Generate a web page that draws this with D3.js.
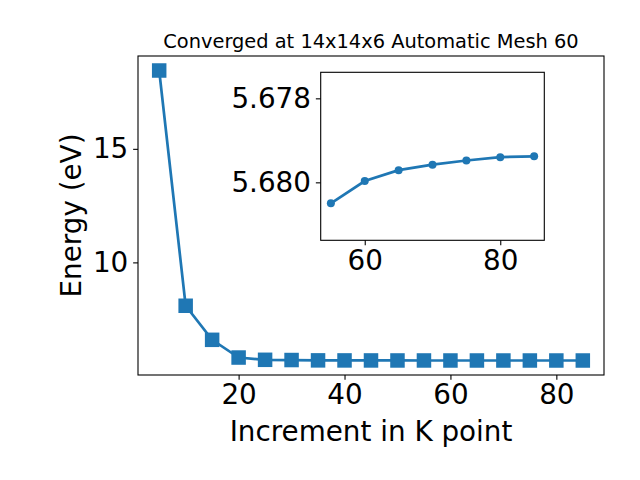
<!DOCTYPE html>
<html>
<head>
<meta charset="utf-8">
<script src="https://cdn.jsdelivr.net/npm/d3@7"></script>
<style>
  body { margin: 0; background: #fff; }
  text { font-family: "DejaVu Sans", sans-serif; fill: #000; }
</style>
</head>
<body>
<svg id="chart" width="640" height="480"></svg>
<script>
// k-point increments and total energies
var kpts = [5, 10, 15, 20, 25, 30, 35, 40, 45, 50, 55, 60, 65, 70, 75, 80, 85]
var energy = [18.45, 8.09, 6.59, 5.81, 5.71, 5.70, 5.685, 5.683, 5.682, 5.681,
              5.6805, 5.67997, 5.67971, 5.67958, 5.67948, 5.6794, 5.67938]

// zoomed-in tail shown in the inset
var insetK = [55, 60, 65, 70, 75, 80, 85]
var insetE = [5.6805, 5.67997, 5.67971, 5.67958, 5.67948, 5.6794, 5.67938]

var xTicks = [20, 40, 60, 80]
var yTicks = [10, 15]
var insetXTicks = [60, 80]
var insetYTicks = [5.678, 5.680]

var blue = "#1f77b4"
var tick = 4.86
var lw = 2.7
var svg = d3.select("#chart")

svg.append("rect").attr("width", 640).attr("height", 480).attr("fill", "#fff")

// main axes box
var L = 138, R = 604, T = 56, B = 375

function padded(ext, f) {
    var d = (ext[1] - ext[0]) * f
    return [ext[0] - d, ext[1] + d]
}

var x = d3.scaleLinear().domain(padded(d3.extent(kpts), 0.05)).range([L, R])
var y = d3.scaleLinear().domain(padded(d3.extent(energy), 0.05)).range([B, T])

var gx = svg.append("g").attr("transform", `translate(0,${B})`)
    .call(d3.axisBottom(x).tickValues(xTicks).tickSize(tick).tickPadding(4.86).tickSizeOuter(0))
var gy = svg.append("g").attr("transform", `translate(${L},0)`)
    .call(d3.axisLeft(y).tickValues(yTicks).tickSize(tick).tickPadding(4.86).tickSizeOuter(0))

;[gx, gy].forEach(function(g) {
    g.select(".domain").remove()
    g.selectAll("line").attr("stroke", "#000").attr("stroke-width", 1.1)
    g.selectAll("text").attr("font-size", 27.8).attr("font-family", "DejaVu Sans")
})

svg.append("path")
    .datum(kpts)
    .attr("fill", "none")
    .attr("stroke", blue)
    .attr("stroke-width", lw)
    .attr("d", d3.line().x(function(d) { return x(d) }).y(function(d, i) { return y(energy[i]) }))

var sq = 14.5
svg.selectAll(".sq")
    .data(kpts)
    .enter()
    .append("rect")
    .attr("class", "sq")
    .attr("x", function(d) { return x(d) - sq / 2 })
    .attr("y", function(d, i) { return y(energy[i]) - sq / 2 })
    .attr("width", sq)
    .attr("height", sq)
    .attr("fill", blue)

svg.append("rect")
    .attr("x", L).attr("y", T).attr("width", R - L).attr("height", B - T)
    .attr("fill", "none").attr("stroke", "#000").attr("stroke-width", 1.1)

svg.append("text")
    .attr("x", (L + R) / 2).attr("y", 48)
    .attr("text-anchor", "middle")
    .attr("font-size", 19.4)
    .text("Converged at 14x14x6 Automatic Mesh 60")

svg.append("text")
    .attr("x", (L + R) / 2).attr("y", 441)
    .attr("text-anchor", "middle")
    .attr("font-size", 27.8)
    .text("Increment in K point")

svg.append("text")
    .attr("transform", `translate(81,${(T + B) / 2}) rotate(-90)`)
    .attr("text-anchor", "middle")
    .attr("font-size", 27.8)
    .text("Energy (eV)")

// inset axes (y runs downward, as in the original)
var iL = 320.7, iR = 544.3, iT = 72.3, iB = 240.3

var ix = d3.scaleLinear().domain(padded(d3.extent(insetK), 0.05)).range([iL, iR])
var iy = d3.scaleLinear().domain([5.67738, 5.68138]).range([iT, iB])

svg.append("rect")
    .attr("x", iL).attr("y", iT).attr("width", iR - iL).attr("height", iB - iT)
    .attr("fill", "#fff")

var igx = svg.append("g").attr("transform", `translate(0,${iB})`)
    .call(d3.axisBottom(ix).tickValues(insetXTicks).tickSize(tick).tickPadding(4.86).tickSizeOuter(0))
var igy = svg.append("g").attr("transform", `translate(${iL},0)`)
    .call(d3.axisLeft(iy).tickValues(insetYTicks).tickFormat(d3.format(".3f")).tickSize(tick).tickPadding(4.86).tickSizeOuter(0))

;[igx, igy].forEach(function(g) {
    g.select(".domain").remove()
    g.selectAll("line").attr("stroke", "#000").attr("stroke-width", 1.1)
    g.selectAll("text").attr("font-size", 27.8).attr("font-family", "DejaVu Sans")
})

svg.append("path")
    .datum(insetK)
    .attr("fill", "none")
    .attr("stroke", blue)
    .attr("stroke-width", lw)
    .attr("d", d3.line().x(function(d) { return ix(d) }).y(function(d, i) { return iy(insetE[i]) }))

svg.selectAll(".dot")
    .data(insetK)
    .enter()
    .append("circle")
    .attr("class", "dot")
    .attr("cx", function(d) { return ix(d) })
    .attr("cy", function(d, i) { return iy(insetE[i]) })
    .attr("r", 4)
    .attr("fill", blue)

svg.append("rect")
    .attr("x", iL).attr("y", iT).attr("width", iR - iL).attr("height", iB - iT)
    .attr("fill", "none").attr("stroke", "#000").attr("stroke-width", 1.1)
</script>
</body>
</html>
